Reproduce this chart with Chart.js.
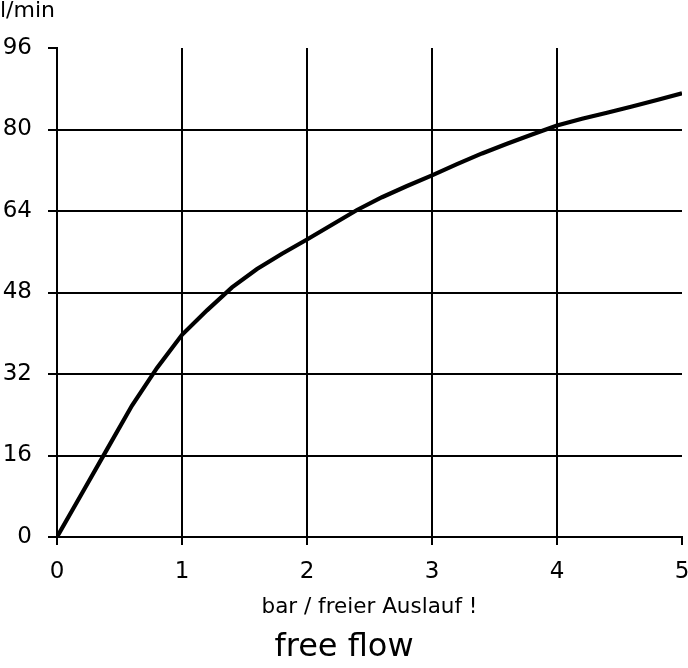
<!DOCTYPE html>
<html>
<head>
<meta charset="utf-8">
<title>free flow</title>
<script src="https://cdn.jsdelivr.net/npm/chart.js@4.4.1/dist/chart.umd.min.js"></script>
<style>
  html, body { margin: 0; padding: 0; background: #fff; }
  #wrap { width: 688px; height: 668px; }
</style>
</head>
<body>
<div id="wrap"><canvas id="flowChart" width="688" height="668"></canvas></div>
<script>
// pressure in bar, flow in l/min
const pressure = [0, 0.2, 0.4, 0.6, 0.8, 1.0, 1.2, 1.4, 1.6, 1.8, 2.0, 2.2, 2.4, 2.6, 2.8, 3.0, 3.2, 3.4, 3.6, 3.8, 4.0, 4.2, 4.4, 4.6, 4.8, 5.0];
const flow = [0, 8.6, 17.2, 25.8, 33.2, 39.7, 44.5, 49, 52.6, 55.6, 58.4, 61.3, 64.2, 66.7, 68.9, 71, 73.2, 75.3, 77.2, 79, 80.8, 82.1, 83.3, 84.5, 85.8, 87.1];
const xTicks = [0, 1, 2, 3, 4, 5];
const yTicks = [0, 16, 32, 48, 64, 80, 96];

const family = '"DejaVu Sans", sans-serif';
const tickFont = { family: family, size: 23 };

const points = pressure.map((p, i) => ({ x: p, y: flow[i] }));

const chartConfig = {
    type: 'line',
    data: {
        datasets: [{
            data: points,
            borderColor: '#000',
            borderWidth: 4.2,
            pointRadius: 0,
            fill: false,
            tension: 0
        }]
    },
    options: {
        responsive: false,
        animation: false,
        layout: { padding: { left: 0, right: 0, top: 0, bottom: 0 } },
        plugins: {
            legend: { display: false },
            tooltip: { enabled: false },
            title: {
                display: true,
                text: 'l/min',
                align: 'start',
                color: '#000',
                font: { family: family, size: 22, weight: 'normal', lineHeight: 1 },
                padding: { top: 0, bottom: 26 }
            },
            subtitle: {
                display: true,
                text: 'free flow',
                position: 'bottom',
                color: '#000',
                font: { family: family, size: 32, lineHeight: 1 },
                padding: { top: 0, bottom: 4 }
            }
        },
        scales: {
            x: {
                type: 'linear',
                min: xTicks[0],
                max: xTicks[xTicks.length - 1],
                afterBuildTicks: (scale) => { scale.ticks = xTicks.map(v => ({ value: v })); },
                afterFit: (scale) => {
                    scale.height = 95;
                    scale.paddingLeft = 0;
                    scale.paddingRight = 6;
                },
                border: { display: true, color: '#000', width: 2 },
                grid: {
                    color: (ctx) => (ctx.tick && ctx.tick.value === 5) ? 'rgba(0,0,0,0)' : '#000',
                    tickColor: '#000',
                    lineWidth: 2,
                    tickLength: 8
                },
                ticks: { color: '#000', font: tickFont, padding: 13, maxRotation: 0 },
                title: {
                    display: true,
                    text: 'bar / freier Auslauf !',
                    color: '#000',
                    font: { family: family, size: 21.5 },
                    padding: { top: 0, bottom: 12 }
                }
            },
            y: {
                min: yTicks[0],
                max: yTicks[yTicks.length - 1],
                afterBuildTicks: (scale) => { scale.ticks = yTicks.map(v => ({ value: v })); },
                afterFit: (scale) => { scale.width = 57; },
                border: { display: true, color: '#000', width: 2 },
                grid: {
                    color: (ctx) => (ctx.tick && ctx.tick.value === 96) ? 'rgba(0,0,0,0)' : '#000',
                    tickColor: '#000',
                    lineWidth: 2,
                    tickLength: 9
                },
                ticks: { color: '#000', font: tickFont, padding: 16 }
            }
        }
    }
};

const ctx = document.getElementById('flowChart').getContext('2d');
new Chart(ctx, chartConfig);
</script>
</body>
</html>
